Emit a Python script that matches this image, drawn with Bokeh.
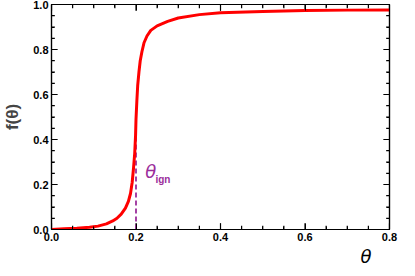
from bokeh.plotting import figure
from bokeh.models import Range1d, LinearAxis, FixedTicker, Label, Title, NumeralTickFormatter, CustomJSTickFormatter
from bokeh.embed import file_html
from bokeh.resources import INLINE

# data
theta = [0.0, 0.03, 0.06, 0.09, 0.11, 0.13, 0.145, 0.155, 0.165, 0.175,
         0.182, 0.187, 0.191, 0.194, 0.197, 0.199, 0.200, 0.202, 0.204,
         0.207, 0.210, 0.214, 0.219, 0.226, 0.235, 0.25, 0.275, 0.30,
         0.35, 0.40, 0.50, 0.60, 0.70, 0.80]
f_theta = [0.0, 0.003, 0.006, 0.010, 0.015, 0.025, 0.038, 0.050, 0.068, 0.095,
           0.125, 0.16, 0.21, 0.27, 0.34, 0.42, 0.49, 0.57, 0.64,
           0.70, 0.75, 0.79, 0.83, 0.86, 0.885, 0.905, 0.925, 0.94,
           0.955, 0.963, 0.969, 0.973, 0.975, 0.976]
theta_ign = [0.2, 0.2]
f_ign = [0.0, 0.49]
x_major = [0.0, 0.2, 0.4, 0.6, 0.8]
y_major = [0.0, 0.2, 0.4, 0.6, 0.8, 1.0]
x_minor = [0.05, 0.1, 0.15, 0.25, 0.3, 0.35, 0.45, 0.5, 0.55, 0.65, 0.7, 0.75]
y_minor = [0.05, 0.1, 0.15, 0.25, 0.3, 0.35, 0.45, 0.5, 0.55, 0.65, 0.7, 0.75,
           0.85, 0.9, 0.95]
X0, X1 = 0.0, 0.8
Y0, Y1 = 0.0, 1.0

PURPLE = "#9b2d9b"

W, H = 399, 267
BL, BR, BT, BB = 39, 10, 4, 38

p = figure(width=W, height=H, output_backend="svg", toolbar_location=None,
           x_range=Range1d(X0, X1), y_range=Range1d(Y0, Y1),
           min_border_left=BL, min_border_right=BR, min_border_top=BT,
           min_border_bottom=BB)
p.grid.visible = False
p.outline_line_color = "black"
p.outline_line_width = 1.2
p.background_fill_color = "white"
p.border_fill_color = "white"


def style(ax, major, minor, labels=True):
    ax.ticker = FixedTicker(ticks=major, minor_ticks=minor)
    ax.major_tick_in = 6
    ax.major_tick_out = 0
    ax.minor_tick_in = 3
    ax.minor_tick_out = 0
    ax.major_tick_line_color = "black"
    ax.minor_tick_line_color = "black"
    ax.axis_line_color = "black"
    ax.axis_line_width = 1.2
    ax.major_label_text_font = "Liberation Sans"
    ax.major_label_text_font_style = "bold"
    ax.major_label_text_font_size = "11px"
    ax.major_label_text_color = "black"
    ax.major_label_standoff = 3
    ax.formatter = NumeralTickFormatter(format="0.0")
    if not labels:
        ax.formatter = CustomJSTickFormatter(code="return ''")
        ax.major_label_standoff = 0
        ax.axis_label = None


style(p.xaxis[0], x_major, x_minor)
style(p.yaxis[0], y_major, y_minor)
p.yaxis[0].axis_label = "f(θ)"
p.yaxis[0].axis_label_text_font = "Liberation Sans"
p.yaxis[0].axis_label_text_font_style = "bold"
p.yaxis[0].axis_label_text_font_size = "17px"
p.yaxis[0].axis_label_standoff = 8

top = LinearAxis()
style(top, x_major, x_minor, labels=False)
p.add_layout(top, "above")
right = LinearAxis()
style(right, y_major, y_minor, labels=False)
p.add_layout(right, "right")

# x-axis title placed below the tick labels, near the right end
xt = Title(text="θ", align="right", offset=18, standoff=1,
           text_font="DejaVu Sans", text_font_style="italic",
           text_font_size="18px", text_color="black", vertical_align="bottom")
p.add_layout(xt, "below")

# inward tick marks as segments; lengths converted from pixels to data units
frame_w = W - BL - BR
frame_h = H - BT - BB - 8
tx_major = 6.0 * (X1 - X0) / frame_w
tx_minor = 3.5 * (X1 - X0) / frame_w
ty_major = 6.0 * (Y1 - Y0) / frame_h
ty_minor = 3.5 * (Y1 - Y0) / frame_h

for yv, sgn in ((Y0, 1), (Y1, -1)):
    p.segment(x0=x_major, y0=[yv] * len(x_major), x1=x_major,
              y1=[yv + sgn * ty_major] * len(x_major),
              line_color="black", line_width=1.2)
    p.segment(x0=x_minor, y0=[yv] * len(x_minor), x1=x_minor,
              y1=[yv + sgn * ty_minor] * len(x_minor),
              line_color="black", line_width=1.2)
for xv, sgn in ((X0, 1), (X1, -1)):
    p.segment(x0=[xv] * len(y_major), y0=y_major,
              x1=[xv + sgn * tx_major] * len(y_major), y1=y_major,
              line_color="black", line_width=1.2)
    p.segment(x0=[xv] * len(y_minor), y0=y_minor,
              x1=[xv + sgn * tx_minor] * len(y_minor), y1=y_minor,
              line_color="black", line_width=1.2)

p.line(theta_ign, f_ign, line_color=PURPLE, line_width=1.8, line_dash="5 3")
p.line(theta, f_theta, line_color="#ff0000", line_width=3)

p.add_layout(Label(x=0.222, y=0.21, text="θ", text_font="DejaVu Sans",
                   text_font_style="italic", text_font_size="18px",
                   text_color=PURPLE))
p.add_layout(Label(x=0.246, y=0.2, text="ign", text_font="Liberation Sans",
                   text_font_style="bold", text_font_size="10px",
                   text_color=PURPLE))

open("out.html", "w").write(file_html(p, INLINE))
